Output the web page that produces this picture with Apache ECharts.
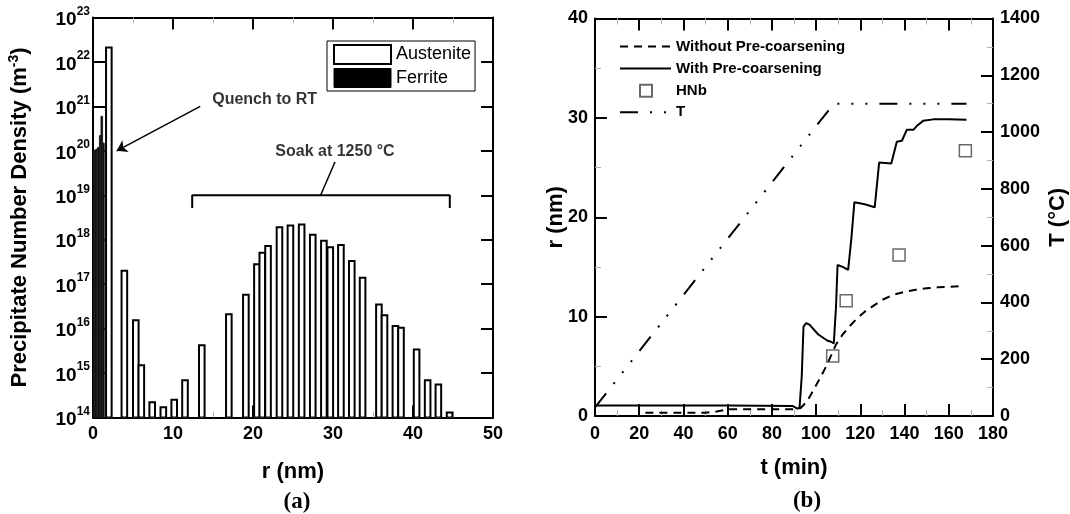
<!DOCTYPE html>
<html><head><meta charset="utf-8">
<script src="https://cdn.jsdelivr.net/npm/echarts@6/dist/echarts.min.js"></script>
<style>html,body{margin:0;padding:0;background:#fff}#c{width:1070px;height:514px}</style>
</head><body><div id="c"></div>
<script>
// ---------- Panel (a) data ----------
const austeniteR = [1.98, 3.92, 5.35, 6.04, 7.40, 8.79, 10.15, 11.5, 13.6, 16.98, 19.11, 20.49, 21.16, 21.88, 23.31, 24.68, 26.08, 27.47, 28.86, 29.66, 30.99, 32.35, 33.70, 35.74, 36.44, 37.80, 38.50, 40.45, 41.83, 43.17, 44.57];
const austeniteN = [2.1e22, 2.0e17, 1.55e16, 1.5e15, 2.2e14, 1.7e14, 2.5e14, 6.9e14, 4.2e15, 2.1e16, 5.8e16, 2.8e17, 5.1e17, 7.2e17, 1.9e18, 2.1e18, 2.2e18, 1.3e18, 9.5e17, 6.8e17, 7.6e17, 3.3e17, 1.4e17, 3.5e16, 2.0e16, 1.15e16, 1.05e16, 3.4e15, 6.9e14, 5.5e14, 1.3e14];
const ferriteR = [0.1, 0.3, 0.5, 0.7, 0.9, 1.1, 1.3];
const ferriteN = [1.0e20, 1.05e20, 1.1e20, 1.2e20, 2.2e20, 6.0e20, 1.5e20];
const quenchArrow = [[13.4, 1.0e21], [2.96, 1.0e20]];
const quenchLabelAt = [14.9, 1.4e21];
const soakBracket = [[12.4, 5.2e18], [12.4, 1e19], [44.6, 1e19], [44.6, 5.2e18]];
const soakLeader = [[28.45, 1e19], [30.25, 5.6e19]];
const soakLabelAt = [30.25, 9.5e19];

// ---------- Panel (b) data ----------
const withoutT = [22.8, 35, 50, 55, 60, 75, 91, 93, 96, 99, 102, 105, 107, 109, 112, 115, 118, 122, 126, 130, 135, 140, 145, 150, 155, 160, 167];
const withoutR = [0.33, 0.33, 0.33, 0.45, 0.67, 0.67, 0.67, 0.8, 1.5, 2.7, 3.9, 5.2, 6.2, 7.2, 8.2, 9.0, 9.7, 10.5, 11.1, 11.7, 12.2, 12.5, 12.7, 12.85, 12.95, 13.0, 13.1];
const withT = [0, 30, 60, 89.5, 91.5, 92.5, 93.5, 94.3, 95.5, 97, 99, 101, 103, 105, 107, 108, 109, 109.7, 112, 114.5, 116, 117.3, 122, 126.5, 128.5, 134, 136.5, 138.8, 141, 144, 145.6, 148.4, 153, 160, 168];
const withR = [1.05, 1.05, 1.05, 1.0, 0.75, 0.8, 4.0, 9.0, 9.35, 9.2, 8.7, 8.2, 7.9, 7.6, 7.45, 7.3, 11.0, 15.2, 15.0, 14.7, 18.0, 21.5, 21.3, 21.0, 25.5, 25.4, 27.6, 27.7, 28.8, 28.8, 29.2, 29.7, 29.85, 29.85, 29.8];
const hnbT = [107.5, 113.6, 137.5, 167.5];
const hnbR = [6.05, 11.6, 16.2, 26.7];
const tempT = [0, 108, 168];
const tempC = [30, 1100, 1100];

const FONT = 'Liberation Sans, Arial, Helvetica, sans-serif';
const BAR_W = 0.7, FER_W = 0.2, YMIN_A = 1e14;

const zip = (a, b) => a.map((v, i) => [v, b[i]]);

function barRenderer(fill, stroke, lw, w) {
  return function (params, api) {
    const r = api.value(0), v = api.value(1);
    const p0 = api.coord([r - w / 2, v]);
    const p1 = api.coord([r + w / 2, YMIN_A]);
    return {
      type: 'rect',
      shape: { x: p0[0], y: p0[1], width: p1[0] - p0[0], height: p1[1] - p0[1] },
      style: { fill: fill, stroke: stroke, lineWidth: lw }
    };
  };
}

const axisLineS = { show: true, onZero: false, lineStyle: { color: '#000', width: 2 } };
const tickS = { show: true, inside: true, length: 12, lineStyle: { color: '#000', width: 2 } };
const minorS = { show: true, splitNumber: 2, length: 6, lineStyle: { color: '#b0b0b0', width: 1 } };
const lblS = { fontSize: 18, fontWeight: 'bold', color: '#000', fontFamily: FONT };
const nameS = { fontSize: 22, fontWeight: 'bold', color: '#000', fontFamily: FONT };
const plain = v => String(v);

const legendText = { fontSize: 15, fontWeight: 'bold', color: '#000', fontFamily: FONT, lineHeight: 15 };
const hiddenSym = { color: 'rgba(0,0,0,0)', borderColor: 'rgba(0,0,0,0)', borderWidth: 0 };

const chart = echarts.init(document.getElementById('c'), null, { renderer: 'canvas' });
chart.setOption({
  animation: false,
  backgroundColor: '#fff',
  textStyle: { fontFamily: FONT },
  grid: [
    { left: 93, top: 17.5, width: 400, height: 400 },
    { left: 595, top: 18.5, width: 398, height: 397.5 }
  ],
  xAxis: [
    { gridIndex: 0, type: 'value', min: 0, max: 50, interval: 10, position: 'bottom',
      axisLine: axisLineS, axisTick: tickS, minorTick: minorS, splitLine: { show: false },
      axisLabel: Object.assign({ margin: 8, formatter: plain }, lblS),
      name: 'r (nm)', nameLocation: 'middle', nameGap: 43, nameMoveOverlap: false, nameTextStyle: nameS },
    { gridIndex: 0, type: 'value', min: 0, max: 50, interval: 10, position: 'top',
      axisLine: axisLineS, axisTick: tickS, minorTick: minorS, splitLine: { show: false },
      axisLabel: { show: false } },
    { gridIndex: 1, type: 'value', min: 0, max: 180, interval: 20, position: 'bottom',
      axisLine: axisLineS, axisTick: tickS, minorTick: minorS, splitLine: { show: false },
      axisLabel: Object.assign({ margin: 9, formatter: plain }, lblS),
      name: 't (min)', nameLocation: 'middle', nameGap: 41, nameMoveOverlap: false, nameTextStyle: nameS },
    { gridIndex: 1, type: 'value', min: 0, max: 180, interval: 20, position: 'top',
      axisLine: axisLineS, axisTick: tickS, minorTick: minorS, splitLine: { show: false },
      axisLabel: { show: false } }
  ],
  yAxis: [
    { gridIndex: 0, type: 'log', logBase: 10, min: 1e14, max: 1e23, splitNumber: 9, position: 'left',
      axisLine: axisLineS, axisTick: tickS, splitLine: { show: false },
      axisLabel: {
        margin: 3,
        formatter: v => '{b|10}{s|' + Math.round(Math.log10(v)) + '}',
        rich: {
          b: { fontSize: 19, fontWeight: 'bold', color: '#000', fontFamily: FONT, verticalAlign: 'bottom', lineHeight: 24 },
          s: { fontSize: 12, fontWeight: 'bold', color: '#000', fontFamily: FONT, verticalAlign: 'top', lineHeight: 12 }
        }
      },
      name: 'Precipitate Number Density (m{s|-3})', nameLocation: 'middle', nameGap: 60, nameMoveOverlap: false,
      nameTextStyle: Object.assign({}, nameS, { fontSize: 22, lineHeight: 26,
        rich: { s: { fontSize: 14, fontWeight: 'bold', color: '#000', fontFamily: FONT, verticalAlign: 'top', lineHeight: 14 } } }) },
    { gridIndex: 0, type: 'log', logBase: 10, min: 1e14, max: 1e23, splitNumber: 9, position: 'right',
      axisLine: axisLineS, axisTick: tickS, splitLine: { show: false }, axisLabel: { show: false } },
    { gridIndex: 1, type: 'value', min: 0, max: 40, interval: 10, position: 'left',
      axisLine: axisLineS, axisTick: tickS, minorTick: minorS, splitLine: { show: false },
      axisLabel: Object.assign({ margin: 7, formatter: plain }, lblS),
      name: 'r (nm)', nameLocation: 'middle', nameGap: 28, nameMoveOverlap: false, nameTextStyle: nameS },
    { gridIndex: 1, type: 'value', min: 0, max: 1400, interval: 200, position: 'right',
      axisLine: axisLineS, axisTick: tickS, minorTick: minorS, splitLine: { show: false },
      axisLabel: Object.assign({ margin: 7, formatter: plain }, lblS),
      name: 'T (°C)', nameLocation: 'middle', nameGap: 54, nameMoveOverlap: false, nameTextStyle: nameS }
  ],
  legend: [
    { orient: 'vertical', left: 327, top: 41, padding: [3, 4, 3, 6], itemGap: 3,
      itemWidth: 57, itemHeight: 19, selectedMode: false, icon: 'rect',
      backgroundColor: '#fff', borderColor: '#000', borderWidth: 1,
      textStyle: { fontSize: 18, color: '#000', fontFamily: FONT, lineHeight: 19 },
      data: [
        { name: 'Austenite', itemStyle: { color: '#fff', borderColor: '#000', borderWidth: 2 } },
        { name: 'Ferrite', itemStyle: { color: '#000', borderColor: '#000', borderWidth: 1 } }
      ] },
    { orient: 'vertical', left: 619, top: 39, padding: 0, itemGap: 7,
      itemWidth: 51, itemHeight: 14, selectedMode: false, textStyle: legendText,
      itemStyle: hiddenSym,
      data: ['Without Pre-coarsening', 'With Pre-coarsening'] },
    { orient: 'vertical', left: 639, top: 83.2, padding: 0,
      itemWidth: 12, itemHeight: 12, selectedMode: false, icon: 'rect',
      textStyle: Object.assign({ padding: [0, 0, 0, 19] }, legendText),
      data: ['HNb'] },
    { orient: 'vertical', left: 619, top: 104.8, padding: 0,
      itemWidth: 51, itemHeight: 14, selectedMode: false, textStyle: legendText,
      itemStyle: hiddenSym,
      data: ['T'] }
  ],
  graphic: [
    { type: 'text', x: 297, y: 502, style: { text: '(a)', fill: '#000', font: 'bold 23px "Liberation Serif", "Times New Roman", serif', textAlign: 'center', textVerticalAlign: 'middle' } },
    { type: 'text', x: 807, y: 501, style: { text: '(b)', fill: '#000', font: 'bold 23px "Liberation Serif", "Times New Roman", serif', textAlign: 'center', textVerticalAlign: 'middle' } }
  ],
  series: [
    { name: 'Austenite', type: 'custom', xAxisIndex: 0, yAxisIndex: 0, clip: true,
      itemStyle: { color: '#fff', borderColor: '#000', borderWidth: 2 },
      renderItem: barRenderer('#fff', '#000', 2, BAR_W), encode: { x: 0, y: 1 },
      data: zip(austeniteR, austeniteN) },
    { name: 'Ferrite', type: 'custom', xAxisIndex: 0, yAxisIndex: 0, clip: true,
      itemStyle: { color: '#000' },
      renderItem: barRenderer('#000', '#222', 1, FER_W), encode: { x: 0, y: 1 },
      data: zip(ferriteR, ferriteN) },
    { name: 'soakBracket', type: 'line', xAxisIndex: 0, yAxisIndex: 0, symbol: 'none',
      lineStyle: { color: '#000', width: 2 }, data: soakBracket, z: 5, silent: true },
    { name: 'soakLeader', type: 'line', xAxisIndex: 0, yAxisIndex: 0, symbol: 'none',
      lineStyle: { color: '#000', width: 1.5 }, data: soakLeader, z: 5, silent: true },
    { name: 'labels', type: 'scatter', xAxisIndex: 0, yAxisIndex: 0, symbolSize: 0, silent: true,
      data: [
        { value: quenchLabelAt, label: { show: true, position: 'right', distance: 0, formatter: 'Quench to RT' } },
        { value: soakLabelAt, label: { show: true, position: 'inside', formatter: 'Soak at 1250 °C' } }
      ],
      label: { fontSize: 16, fontWeight: 'bold', color: '#000', fontFamily: FONT },
      markLine: {
        silent: true, symbol: ['none', 'arrow'], symbolSize: 10,
        lineStyle: { color: '#000', width: 1.5, type: 'solid' }, label: { show: false },
        data: [[{ coord: quenchArrow[0] }, { coord: quenchArrow[1] }]]
      } },
    { name: 'Without Pre-coarsening', type: 'line', xAxisIndex: 2, yAxisIndex: 2, symbol: 'none', showSymbol: false,
      itemStyle: { color: '#000' }, lineStyle: { color: '#000', width: 2, type: [8, 6] },
      data: zip(withoutT, withoutR) },
    { name: 'With Pre-coarsening', type: 'line', xAxisIndex: 2, yAxisIndex: 2, symbol: 'none', showSymbol: false,
      itemStyle: { color: '#000' }, lineStyle: { color: '#000', width: 2 },
      data: zip(withT, withR) },
    { name: 'HNb', type: 'scatter', xAxisIndex: 2, yAxisIndex: 2, symbol: 'rect', symbolSize: 12,
      itemStyle: { color: 'rgba(255,255,255,0)', borderColor: '#444', borderWidth: 1.5 },
      data: zip(hnbT, hnbR) },
    { name: 'T', type: 'line', xAxisIndex: 2, yAxisIndex: 3, symbol: 'none', showSymbol: false,
      itemStyle: { color: '#000' }, lineStyle: { color: '#000', width: 2, type: [18, 12, 2, 12, 2, 12, 2, 12] },
      data: zip(tempT, tempC) }
  ]
});
</script></body></html>
